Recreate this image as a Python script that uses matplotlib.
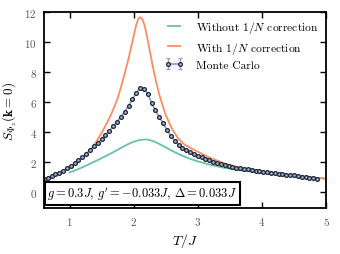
import matplotlib
matplotlib.use("Agg")
import matplotlib.pyplot as plt

plt.rcParams['font.family'] = 'serif'
plt.rcParams['font.serif'] = ['cmr10', 'DejaVu Serif']
plt.rcParams['mathtext.fontset'] = 'cm'
plt.rcParams['axes.formatter.use_mathtext'] = True

# Monte Carlo data
mc_T = [0.60, 0.66, 0.72, 0.78, 0.84, 0.90, 0.96, 1.02, 1.08, 1.14, 1.20, 1.26,
        1.32, 1.38, 1.44, 1.50, 1.56, 1.62, 1.68, 1.74, 1.80, 1.86, 1.92, 1.98,
        2.04, 2.10, 2.16, 2.22, 2.28, 2.34, 2.40, 2.46, 2.52, 2.58, 2.64, 2.70,
        2.76, 2.82, 2.88, 2.94, 3.00, 3.06, 3.12, 3.18, 3.24, 3.30, 3.36, 3.42,
        3.48, 3.54, 3.60, 3.66, 3.72, 3.78, 3.84, 3.90, 3.96, 4.02, 4.08, 4.14,
        4.20, 4.26, 4.32, 4.38, 4.44, 4.50, 4.56, 4.62, 4.68, 4.74, 4.80, 4.86]
mc_S = [0.88, 0.98, 1.08, 1.19, 1.31, 1.45, 1.60, 1.76, 1.94, 2.13, 2.34, 2.57,
        2.82, 3.06, 3.30, 3.55, 3.81, 4.09, 4.39, 4.70, 5.02, 5.37, 5.75, 6.18,
        6.62, 6.92, 6.90, 6.55, 5.95, 5.45, 5.00, 4.60, 4.15, 3.75, 3.42, 3.18,
        2.98, 2.82, 2.68, 2.55, 2.44, 2.33, 2.22, 2.12, 2.03, 1.95, 1.87, 1.80,
        1.75, 1.70, 1.65, 1.61, 1.57, 1.53, 1.49, 1.45, 1.41, 1.38, 1.34, 1.31,
        1.27, 1.24, 1.21, 1.18, 1.15, 1.12, 1.08, 1.05, 1.02, 0.98, 0.95, 0.91]
mc_err = 0.03

# Without 1/N correction
green_T = [1.0, 1.1, 1.2, 1.3, 1.4, 1.5, 1.6, 1.7, 1.8, 1.9, 2.0, 2.1, 2.2, 2.3,
           2.4, 2.5, 2.6, 2.7, 2.8, 2.9, 3.0, 3.1, 3.2, 3.3, 3.4, 3.5, 3.6, 3.7,
           3.8, 3.9, 4.0, 4.1, 4.2, 4.3, 4.4, 4.5, 4.6, 4.7, 4.8, 4.9, 5.0]
green_S = [1.32, 1.48, 1.66, 1.86, 2.06, 2.27, 2.49, 2.71, 2.95, 3.18, 3.37, 3.49,
           3.52, 3.42, 3.22, 2.99, 2.76, 2.55, 2.36, 2.20, 2.06, 1.94, 1.83, 1.73,
           1.64, 1.57, 1.50, 1.44, 1.39, 1.34, 1.30, 1.26, 1.22, 1.18, 1.14, 1.10,
           1.06, 1.02, 0.98, 0.95, 0.92]

# With 1/N correction
orange_T = [1.0, 1.1, 1.2, 1.3, 1.4, 1.5, 1.6, 1.65, 1.7, 1.75, 1.8, 1.85, 1.9,
            1.95, 2.0, 2.025, 2.05, 2.075, 2.1, 2.125, 2.15, 2.175, 2.2, 2.25,
            2.3, 2.35, 2.4, 2.45, 2.5, 2.6, 2.7, 2.8, 2.9, 3.0, 3.2, 3.4, 3.6,
            3.8, 4.0, 4.2, 4.4, 4.6, 4.8, 5.0]
orange_S = [1.72, 1.98, 2.30, 2.70, 3.25, 3.95, 4.75, 5.20, 5.70, 6.25, 6.95,
            7.75, 8.55, 9.45, 10.40, 10.88, 11.28, 11.55, 11.65, 11.58, 11.38,
            11.02, 10.55, 9.45, 8.35, 7.35, 6.50, 5.80, 5.15, 4.20, 3.55, 3.15,
            2.92, 2.70, 2.28, 1.95, 1.70, 1.52, 1.38, 1.26, 1.15, 1.06, 0.98,
            0.90]

x_ticks = [1, 2, 3, 4, 5]
y_ticks = [0, 2, 4, 6, 8, 10, 12]

fig = plt.figure(figsize=(3.4, 2.55), dpi=100)
ax = fig.add_axes([0.129, 0.18, 0.83, 0.769])

ax.plot(green_T, green_S, color='#66c2a5', lw=1.3, label=r'Without $1/N$ correction')
ax.plot(orange_T, orange_S, color='#fc8d62', lw=1.3, label=r'With $1/N$ correction')
ax.errorbar(mc_T, mc_S, yerr=mc_err, color='#8da0cb', lw=1.3, marker='o', ms=2.7,
            mfc='#aab4cc', mec='#1c2438', mew=0.9, capsize=1.5, elinewidth=1,
            label='Monte Carlo')

ax.set_xlim(0.6, 5)
ax.set_ylim(-1.05, 12)
ax.set_xticks(x_ticks)
ax.set_yticks(y_ticks)
ax.tick_params(direction='in', top=True, right=True, length=4, width=1,
               labelsize=8, labelcolor='#555555', pad=5)
for s in ax.spines.values():
    s.set_linewidth(1.3)

ax.set_xlabel(r'$T/J$', fontsize=10, labelpad=3)
ax.set_ylabel(r'$S_{\Phi_z}(\mathbf{k}=0)$', fontsize=9.5, labelpad=4)

leg = ax.legend(loc='upper right', frameon=False, fontsize=8.3, handlelength=1.6,
                handletextpad=1.1, labelspacing=0.35, borderaxespad=0.25,
                numpoints=2)

ax.text(0.012, 0.03, r"$g=0.3J,\, g'=-0.033J,\, \Delta=0.033J$", transform=ax.transAxes,
        fontsize=9, ha='left', va='bottom',
        bbox=dict(boxstyle='square,pad=0.2', fc='white', ec='black', lw=1.5))

fig.savefig('out.png', dpi=100)
